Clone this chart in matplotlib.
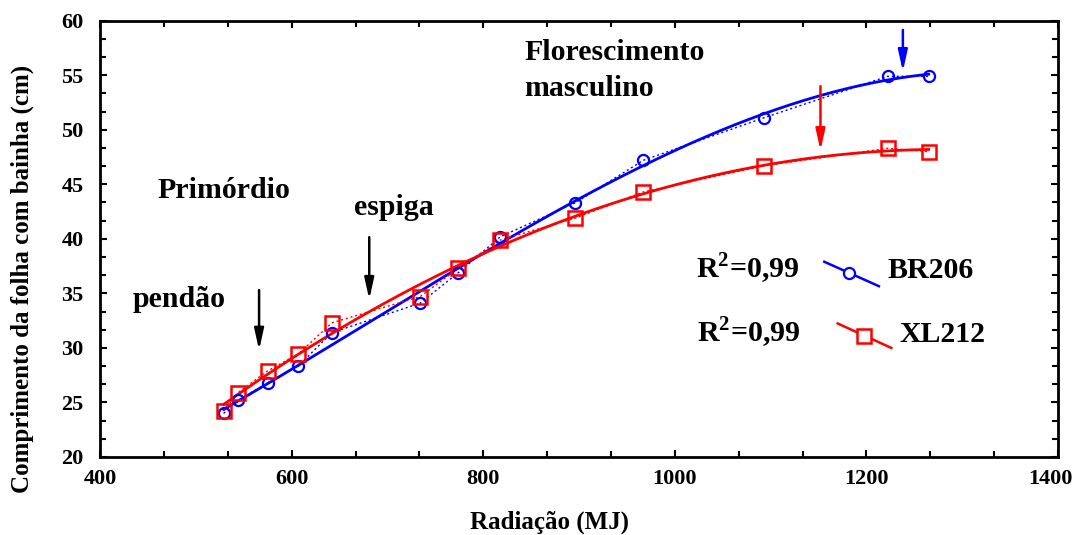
import numpy as np
import matplotlib
matplotlib.use('Agg')
import matplotlib.pyplot as plt
from matplotlib.ticker import MultipleLocator, AutoMinorLocator, FuncFormatter

# ── data ──────────────────────────────────────────────────────────────────────
radiacao = [529, 544, 575, 607, 642, 734, 774, 818, 896, 967, 1093, 1222, 1265]
br206 = [24.0, 25.2, 26.8, 28.35, 31.4, 34.1, 36.9, 40.2, 43.3, 47.2, 51.1, 54.9, 54.9]
xl212 = [24.2, 25.9, 27.9, 29.45, 32.3, 34.7, 37.3, 39.9, 41.9, 44.3, 46.7, 48.3, 48.0]

r2_labels = ['0,99', '0,99']
series_names = ['BR206', 'XL212']

# phenology arrows: (x, y_start, y_tip, colour)
arrows = [
    (566, 35.3, 29.8, 'black'),
    (681, 40.15, 34.45, 'black'),
    (1238, 59.15, 55.35, 'blue'),
    (1152, 54.0, 48.1, 'red'),
]

plt.rcParams['font.family'] = ['Liberation Serif', 'DejaVu Serif']
plt.rcParams['font.weight'] = 'bold'
plt.rcParams['mathtext.fontset'] = 'custom'
plt.rcParams['mathtext.bf'] = 'Liberation Serif:bold'
plt.rcParams['mathtext.rm'] = 'Liberation Serif:bold'

fig = plt.figure(figsize=(10.77, 5.35), dpi=100)
ax = fig.add_axes([0.0929, 0.1458, 0.8895, 0.8155])

x = np.array(radiacao)
xs = np.linspace(x.min(), x.max(), 200)

# polynomial fits + dotted connectors
for y, col, deg in [(br206, 'blue', 3), (xl212, 'red', 2)]:
    c = np.polyfit(x, y, deg)
    ax.plot(xs, np.polyval(c, xs), color=col, lw=2.0)
    ax.plot(x, y, color=col, lw=1.0, ls=(0, (1.5, 2)))

ax.plot(x, br206, ls='none', marker='o', ms=8, mfc='none', mec='blue', mew=1.6)
ax.plot(x, xl212, ls='none', marker='s', ms=9.5, mfc='none', mec='red', mew=1.8)

for ax_x, y0, y1, col in arrows:
    ax.annotate('', xy=(ax_x, y1), xytext=(ax_x, y0),
                arrowprops=dict(arrowstyle='-|>,head_length=0.9,head_width=0.2',
                                color=col, lw=1.8, shrinkA=0, shrinkB=0,
                                mutation_scale=14))

# stage labels
fs = 21.5
txt = dict(fontsize=fs, fontweight='bold', va='center', ha='left')
ax.text(460, 44.4, 'Primórdio', **txt)
ax.text(434, 34.4, 'pendão', **txt)
ax.text(665, 42.9, 'espiga', **txt)
ax.text(843, 57.1, 'Florescimento', **txt)
ax.text(843, 53.8, 'masculino', **txt)

# hand-made legend
leg_y = [36.4, 30.55]
r2_x = [1130, 1131]
name_x = [1222, 1235]
ax.plot([1156, 1213], [37.9, 35.66], color='blue', lw=1.8)
ax.plot([1182], [36.9], marker='o', ms=8, mfc='white', mec='blue', mew=1.6)
ax.plot([1170, 1226], [32.24, 30.0], color='red', lw=1.8)
ax.plot([1197.5], [31.1], marker='s', ms=9.5, mfc='white', mec='red', mew=1.8)
for i in range(2):
    ax.text(r2_x[i], leg_y[i], r'R$^{\mathbf{2}}$=' + r2_labels[i],
            fontsize=fs, va='baseline', ha='right')
    ax.text(name_x[i], leg_y[i], series_names[i], fontsize=fs,
            va='baseline', ha='left')

ax.set_xlim(400, 1400)
ax.set_ylim(20, 60)
ax.xaxis.set_major_locator(MultipleLocator(200))
ax.xaxis.set_minor_locator(AutoMinorLocator(3))
ax.yaxis.set_major_locator(MultipleLocator(5))
ax.yaxis.set_minor_locator(AutoMinorLocator(3))
# last x label is drawn by hand so it stays inside the canvas
ax.xaxis.set_major_formatter(FuncFormatter(lambda v, p: '' if v >= 1400 else f'{v:.0f}'))
fig.text(0.975, 0.1047, '1400', fontsize=16, fontweight='bold', ha='center', va='center')

ax.tick_params(which='both', direction='in', top=True, right=True,
               width=1.5, labelsize=16)
ax.tick_params(which='major', length=5)
ax.tick_params(which='minor', length=4)
ax.tick_params(axis='x', pad=9)
ax.tick_params(axis='y', pad=12)
for s in ax.spines.values():
    s.set_linewidth(2)

ax.set_xlabel('Radiação (MJ)', fontsize=18, fontweight='bold')
ax.set_ylabel('Comprimento da folha com bainha (cm)', fontsize=18, fontweight='bold')
ax.xaxis.set_label_coords(0.469, -0.149)
ax.yaxis.set_label_coords(-0.0814, 0.408)
ax.xaxis.label.set_va('center')
ax.yaxis.label.set_va('center')

fig.savefig('out.png', dpi=100)
